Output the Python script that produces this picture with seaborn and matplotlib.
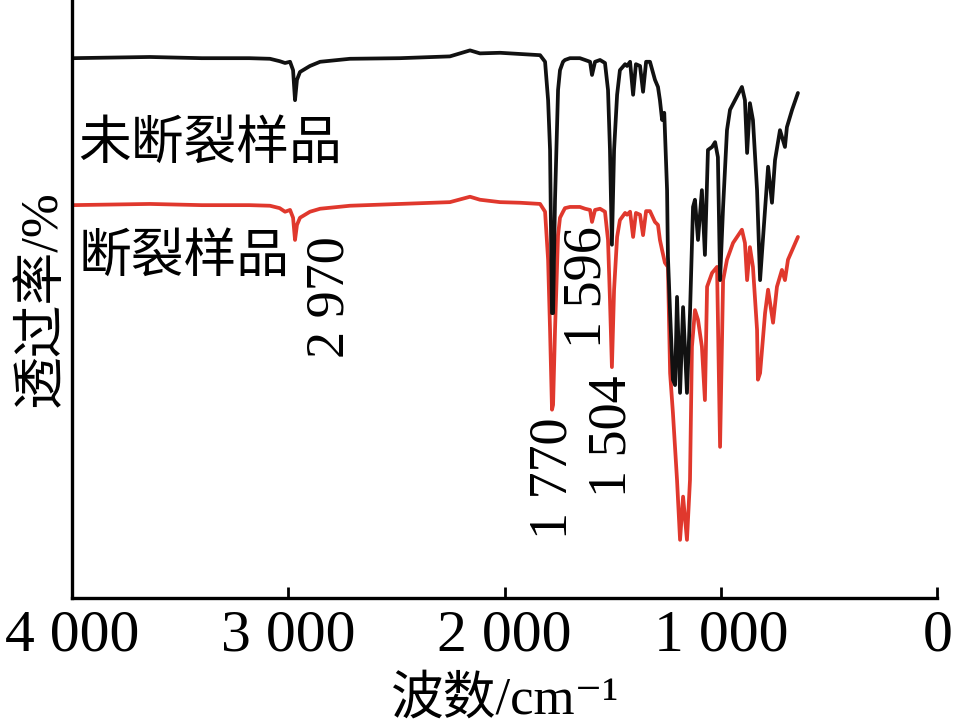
import matplotlib
matplotlib.use('Agg')
import matplotlib.pyplot as plt
import pandas as pd
import numpy as np
import seaborn as sns

sns.set_style('white')
plt.rcParams['font.family'] = ['Liberation Serif', 'Noto Sans CJK SC', 'DejaVu Sans']
plt.rcParams['text.color'] = 'black'
plt.rcParams['axes.labelcolor'] = 'black'
plt.rcParams['xtick.color'] = 'black'

# 未断裂样品 (black)
wn_black = [4000, 3640, 3400, 3180, 3085, 3040, 3015, 2992, 2978, 2969, 2960, 2946, 2900, 2853,
            2715, 2484, 2253, 2160, 2114, 2021, 1929, 1836, 1813, 1799, 1790, 1781, 1776, 1767,
            1753, 1744, 1730, 1721, 1698, 1652, 1628, 1605, 1596, 1582, 1559, 1536, 1522, 1513,
            1504, 1494, 1480, 1467, 1443, 1434, 1420, 1406, 1393, 1374, 1360, 1346, 1328, 1305,
            1291, 1282, 1272, 1262, 1249, 1245, 1235, 1222, 1212, 1203, 1189, 1175, 1157, 1143,
            1129, 1120, 1106, 1088, 1074, 1060, 1041, 1027, 1014, 1004, 990, 972, 958, 935, 903,
            889, 879, 866, 852, 833, 819, 806, 782, 764, 750, 727, 704, 695, 671, 644]
t_black = [90.3, 90.5, 90.3, 90.3, 90.2, 89.8, 89.5, 89.7, 88.3, 83.3, 86.7, 88.0, 89.0, 89.7,
           90.2, 90.3, 90.6, 91.6, 91.1, 91.2, 91.0, 90.8, 89.7, 83.3, 75.0, 47.8, 47.8, 66.7,
           85.0, 88.3, 89.7, 90.0, 90.3, 90.3, 90.0, 89.7, 87.5, 89.7, 90.0, 89.5, 85.0, 75.0,
           59.2, 75.0, 84.2, 88.3, 89.3, 89.0, 89.7, 84.2, 89.3, 89.0, 84.7, 89.7, 89.7, 86.7,
           85.5, 83.3, 80.0, 81.2, 68.3, 57.2, 47.8, 36.7, 35.8, 50.5, 34.5, 48.8, 34.5, 47.8,
           65.5, 66.7, 60.0, 68.3, 57.5, 75.0, 75.5, 76.3, 73.8, 53.3, 65.5, 78.3, 81.7, 83.3, 85.5,
           83.3, 74.5, 82.8, 80.0, 68.3, 53.3, 60.0, 72.2, 66.2, 73.3, 78.3, 75.5, 78.8, 81.7, 84.5]

# 断裂样品 (red)
wn_red = [4000, 3640, 3400, 3180, 3085, 3040, 3015, 2992, 2978, 2969, 2960, 2946, 2900, 2853,
          2715, 2484, 2253, 2160, 2114, 2021, 1929, 1836, 1813, 1799, 1790, 1781, 1776, 1767,
          1753, 1744, 1730, 1721, 1698, 1652, 1628, 1605, 1596, 1582, 1559, 1536, 1522, 1513,
          1504, 1494, 1480, 1467, 1443, 1434, 1420, 1406, 1393, 1374, 1360, 1346, 1328, 1305,
          1291, 1282, 1272, 1259, 1245, 1235, 1222, 1203, 1189, 1175, 1157, 1143, 1134, 1120,
          1106, 1088, 1074, 1064, 1041, 1018, 1004, 990, 972, 944, 903, 889, 879, 866, 852,
          833, 829, 819, 796, 782, 759, 741, 718, 704, 690, 644]
t_red = [65.8, 66.0, 65.8, 65.8, 65.7, 65.3, 64.7, 65.0, 63.7, 60.0, 62.5, 63.7, 64.7, 65.2,
         65.7, 66.0, 66.3, 67.2, 66.7, 66.3, 66.2, 66.0, 64.7, 56.7, 45.0, 31.7, 32.5, 45.0,
         60.8, 63.7, 64.7, 65.3, 65.5, 65.5, 65.2, 65.0, 63.0, 65.0, 65.2, 64.7, 60.0, 50.0,
         38.8, 51.7, 60.5, 63.3, 64.5, 64.2, 64.7, 60.5, 64.5, 64.2, 60.8, 64.8, 64.8, 63.0,
         62.5, 60.0, 58.3, 56.2, 55.5, 37.8, 31.2, 20.0, 10.0, 17.2, 10.0, 20.0, 42.2, 48.3,
         46.7, 42.2, 33.3, 52.2, 54.5, 55.5, 25.5, 53.3, 56.7, 59.5, 61.7, 59.5, 53.3, 58.8, 55.5,
         45.0, 36.7, 37.8, 47.8, 51.7, 46.2, 52.2, 55.0, 53.3, 56.7, 60.5]

sample_names = ['断裂样品', '未断裂样品']
peak_labels = ['2 970', '1 770', '1 596', '1 504']
x_ticks = [4000, 3000, 2000, 1000, 0]
x_ticklabels = ['4 000', '3 000', '2 000', '1 000', '0']

df = pd.concat([
    pd.DataFrame({'wn': wn_red, 't': t_red, 'sample': sample_names[0]}),
    pd.DataFrame({'wn': wn_black, 't': t_black, 'sample': sample_names[1]}),
])

fig = plt.figure(figsize=(9.55, 7.24), dpi=100)
ax = fig.add_axes([0.0754, 0.174, 0.906, 0.826])

sns.lineplot(data=df, x='wn', y='t', hue='sample', hue_order=sample_names,
             palette=['#e0382d', '#111111'], estimator=None, linewidth=2.7,
             legend=False, ax=ax)

ax.set_xlim(4000, 0)
ax.set_ylim(0.3, 100)
ax.set_xticks(x_ticks)
ax.set_xticklabels(x_ticklabels, fontsize=43)
ax.set_yticks([])
ax.tick_params(axis='x', bottom=True, direction='in', length=8, width=2, pad=8)
for s in ['top', 'right']:
    ax.spines[s].set_visible(False)
for s in ['left', 'bottom']:
    ax.spines[s].set_linewidth(2.4)
    ax.spines[s].set_color('black')

ax.set_xlabel('波数/cm⁻¹', fontsize=38, labelpad=9)
ax.set_ylabel('透过率/%', fontsize=38, labelpad=4)

# sample names
ax.text(3972, 75.8, '未断裂样品', fontsize=38, ha='left', va='center')
ax.text(3972, 57.0, '断裂样品', fontsize=38, ha='left', va='center')

# peak annotations
ax.text(2807, 50.5, peak_labels[0], fontsize=39, rotation=90, ha='center', va='center')
ax.text(1776, 20.3, peak_labels[1], fontsize=39, rotation=90, ha='center', va='center')
ax.text(1619, 52.2, peak_labels[2], fontsize=39, rotation=90, ha='center', va='center')
ax.text(1504, 27.2, peak_labels[3], fontsize=39, rotation=90, ha='center', va='center')

fig.savefig('out.png', dpi=100)
